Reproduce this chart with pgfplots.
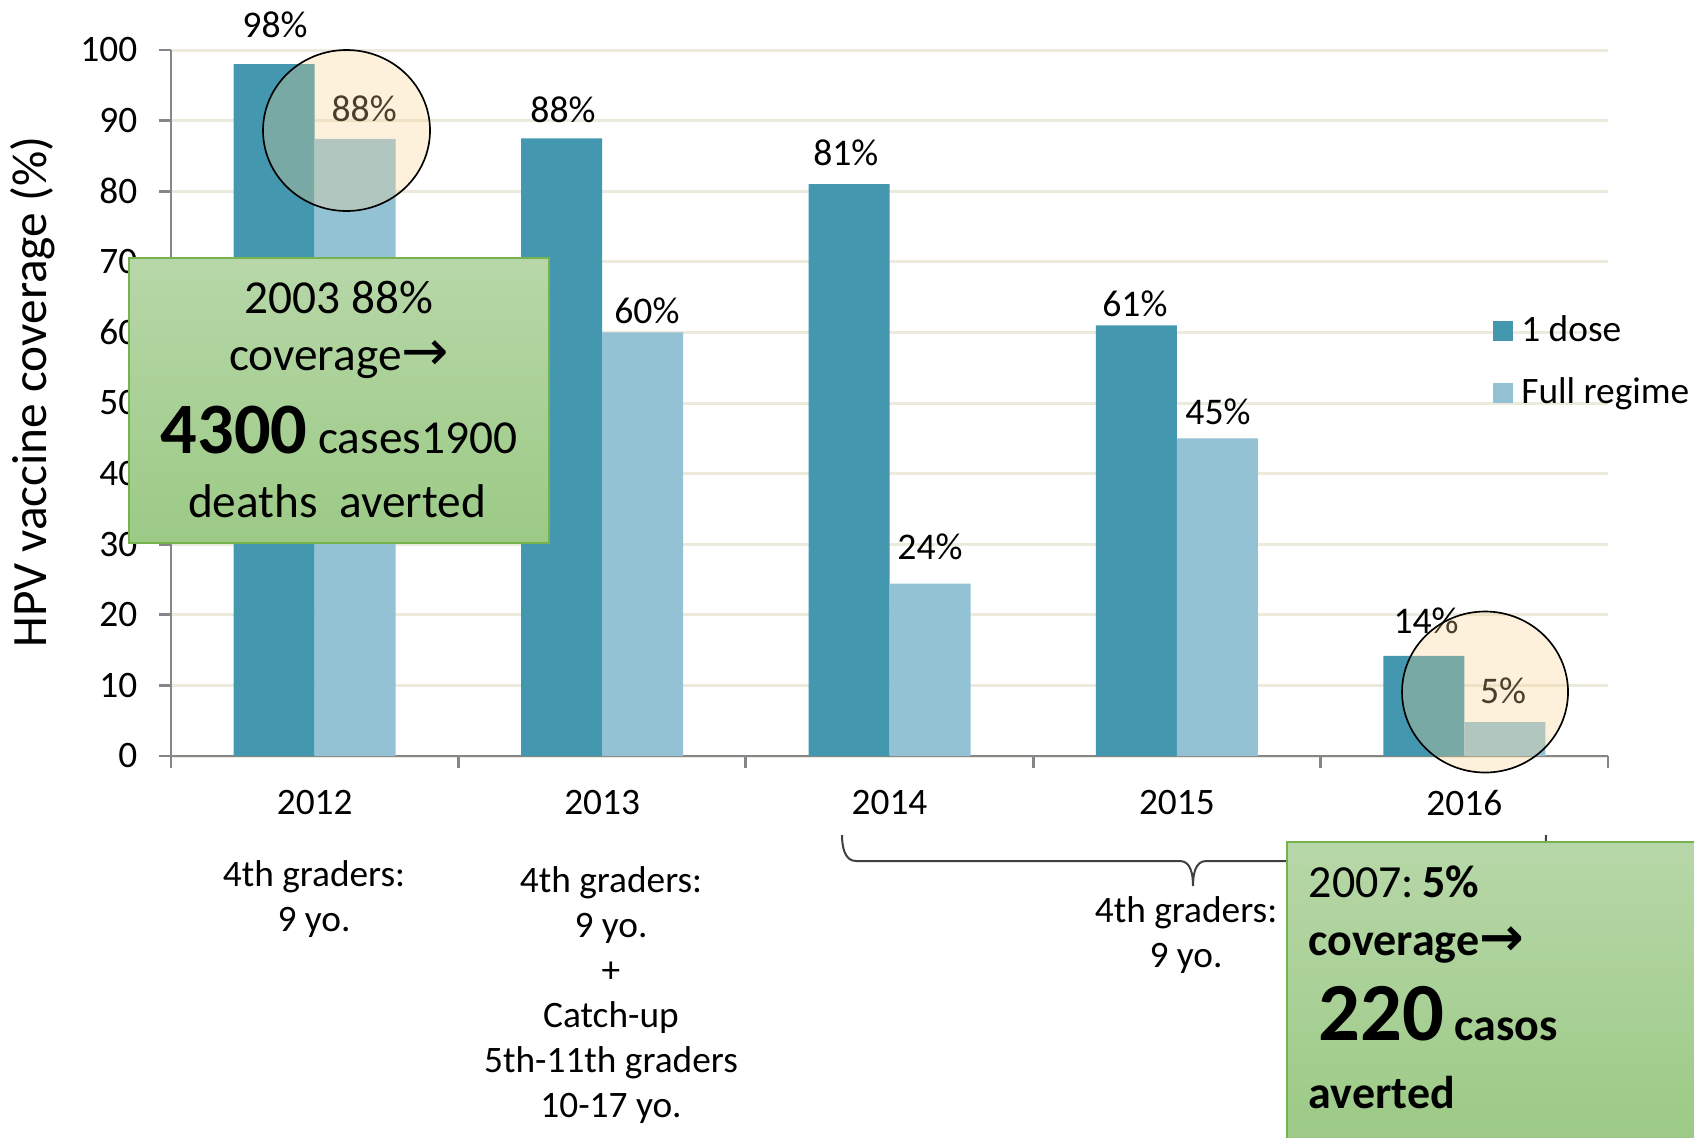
\documentclass[border=0pt]{standalone}
\usepackage{pgfplots}
\pgfplotsset{compat=1.18}
\usepackage{fontspec}
\setmainfont{Carlito}
\newfontfamily\dejavu{DejaVu Sans}
\definecolor{dose1}{RGB}{67,152,176}
\definecolor{fullr}{RGB}{147,194,212}
\definecolor{gridc}{RGB}{236,233,221}
\definecolor{axisgray}{RGB}{134,134,134}
\definecolor{circfill}{RGB}{247,210,140}
\definecolor{gtop}{RGB}{183,215,168}
\definecolor{gbot}{RGB}{156,202,134}
\definecolor{gborder}{RGB}{118,178,78}
\begin{document}
\begin{tikzpicture}
\path[use as bounding box] (0,0) rectangle (508.2pt,341.1pt);
\begin{axis}[
  at={(51.3pt,114.3pt)}, anchor=south west,
  scale only axis, width=431.1pt, height=211.8pt,
  xmin=-0.5, xmax=4.5, ymin=0, ymax=100,
  axis x line*=bottom, axis y line*=left,
  axis line style={draw=axisgray, line width=0.8pt},
  tick align=outside,
  major tick length=3.6pt, minor tick length=3.6pt,
  tick style={draw=axisgray, line width=0.8pt},
  xtick={0,1,2,3,4},
  xticklabels={2012,2013,2014,2015,2016},
  minor xtick={-0.5,0.5,1.5,2.5,3.5,4.5},
  major x tick style={draw=none},
  ytick={0,10,...,100},
  ymajorgrids,
  major grid style={draw=gridc, line width=0.9pt},
  /pgf/number format/assume math mode=true,
  ticklabel style={font=\fontsize{11.2}{13.4}\selectfont},
  yticklabel style={xshift=-3pt},
  xticklabel style={yshift=-3pt},
  ylabel={HPV vaccine coverage (\%)},
  ylabel style={font=\fontsize{14.8}{17.8}\selectfont, at={(axis description cs:-0.096,0.5156)}, anchor=center},
  legend style={draw=none, fill=none, inner sep=0pt, at={(rel axis cs:0.9193,0.637)}, anchor=north west,
    font=\fontsize{11.2}{13.4}\selectfont, row sep=4pt, nodes={inner sep=2.6pt}},
  legend cell align=left,
  clip=false,
]
\addplot[ybar, bar width=24.3pt, bar shift=-12.15pt, fill=dose1, draw=none,
  legend image code/.code={\fill[dose1] (0pt,-3pt) rectangle (6pt,3pt);}]
  coordinates {(0,98) (1,87.5) (2,81) (3,61) (4,14.2)};
\addlegendentry{1 dose}
\addplot[ybar, bar width=24.3pt, bar shift=12.15pt, fill=fullr, draw=none,
  legend image code/.code={\fill[fullr] (0pt,-3pt) rectangle (6pt,3pt);}]
  coordinates {(0,87.4) (1,60) (2,24.4) (3,45) (4,4.8)};
\addlegendentry{Full regime}
\addplot[forget plot, only marks, mark=*, mark size=0pt, mark options={draw=none,fill=none},
  point meta=explicit symbolic, nodes near coords,
  nodes near coords style={anchor=base, inner sep=0pt, font=\fontsize{11.3}{13.5}\selectfont, text=black}]
  coordinates {
   (-0.138,101.8) [98\%]
   (0.172,89.9) [88\%]
   (0.864,89.8) [88\%]
   (1.156,61.3) [60\%]
   (1.848,83.7) [81\%]
   (2.141,27.8) [24\%]
   (2.854,62.3) [61\%]
   (3.143,46.9) [45\%]
   (3.867,17.4) [14\%]
   (4.135,7.4) [5\%]
  };
\end{axis}
\begin{scope}[x=0.3pt,y=-0.3pt,shift={(0pt,341.1pt)}]
  % highlight circles
  \draw[black, line width=0.5pt, fill=circfill, fill opacity=0.3] (346.5,130.5) ellipse [x radius=83.5, y radius=80.5];
  \draw[black, line width=0.5pt, fill=circfill, fill opacity=0.3] (1485,692) ellipse [x radius=83, y radius=80.5];
  % brace
  \draw[black!75, line width=0.6pt] (842,835) to[out=-90,in=180] (856,861) -- (1180,861)
     to[out=0,in=90] (1193,886) to[out=90,in=180] (1206,861) -- (1532,861) to[out=0,in=-90] (1546,835);
  % annotations under the axis
  \begin{scope}[every node/.style={anchor=base, inner sep=0pt, font=\fontsize{11.2}{13.4}\selectfont}]
    \node at (314,886) {4th graders:};
    \node at (314,931) {9 yo.};
    \node at (611,892) {4th graders:};
    \node at (611,937) {9 yo.};
    \node at (611,982) {+};
    \node at (611,1027) {Catch-up};
    \node at (611,1072) {5th-11th graders};
    \node at (611,1117) {10-17 yo.};
    \node at (1186,922) {4th graders:};
    \node at (1186,967) {9 yo.};
  \end{scope}
  % green box 1
  \fill[gbot] (129,258) rectangle (549,543);
  \shade[top color=gtop, bottom color=gbot] (129,258) rectangle (549,543);
  \draw[gborder, line width=0.6pt] (129,258) rectangle (549,543);
  \begin{scope}[every node/.style={anchor=base, inner sep=0pt, font=\fontsize{14.2}{17}\selectfont}]
    \node at (339,313) {2003 88\%};
    \node at (339,370) {coverage{\dejavu\fontsize{17}{20}\selectfont →}};
    \node at (339,453) {{\bfseries\fontsize{21.7}{26}\selectfont 4300} cases1900};
    \node at (337,517) {deaths~~averted};
  \end{scope}
  % green box 2
  \shade[top color=gtop, bottom color=gbot] (1287,842) rectangle (1700,1140);
  \draw[gborder, line width=0.6pt] (1287,842) rectangle (1700,1140);
  \begin{scope}[every node/.style={anchor=base west, inner sep=0pt, font=\fontsize{13.8}{16}\selectfont}]
    \node at (1308,897) {2007:\hspace{0.18em}\textbf{5\%}};
    \node at (1308,955) {\bfseries coverage{\dejavu\bfseries\fontsize{16}{19}\selectfont →}};
    \node at (1318,1040) {\bfseries{\fontsize{24.8}{29}\selectfont 220} casos};
    \node at (1308,1108) {\bfseries averted};
  \end{scope}
\end{scope}
\end{tikzpicture}
\end{document}
